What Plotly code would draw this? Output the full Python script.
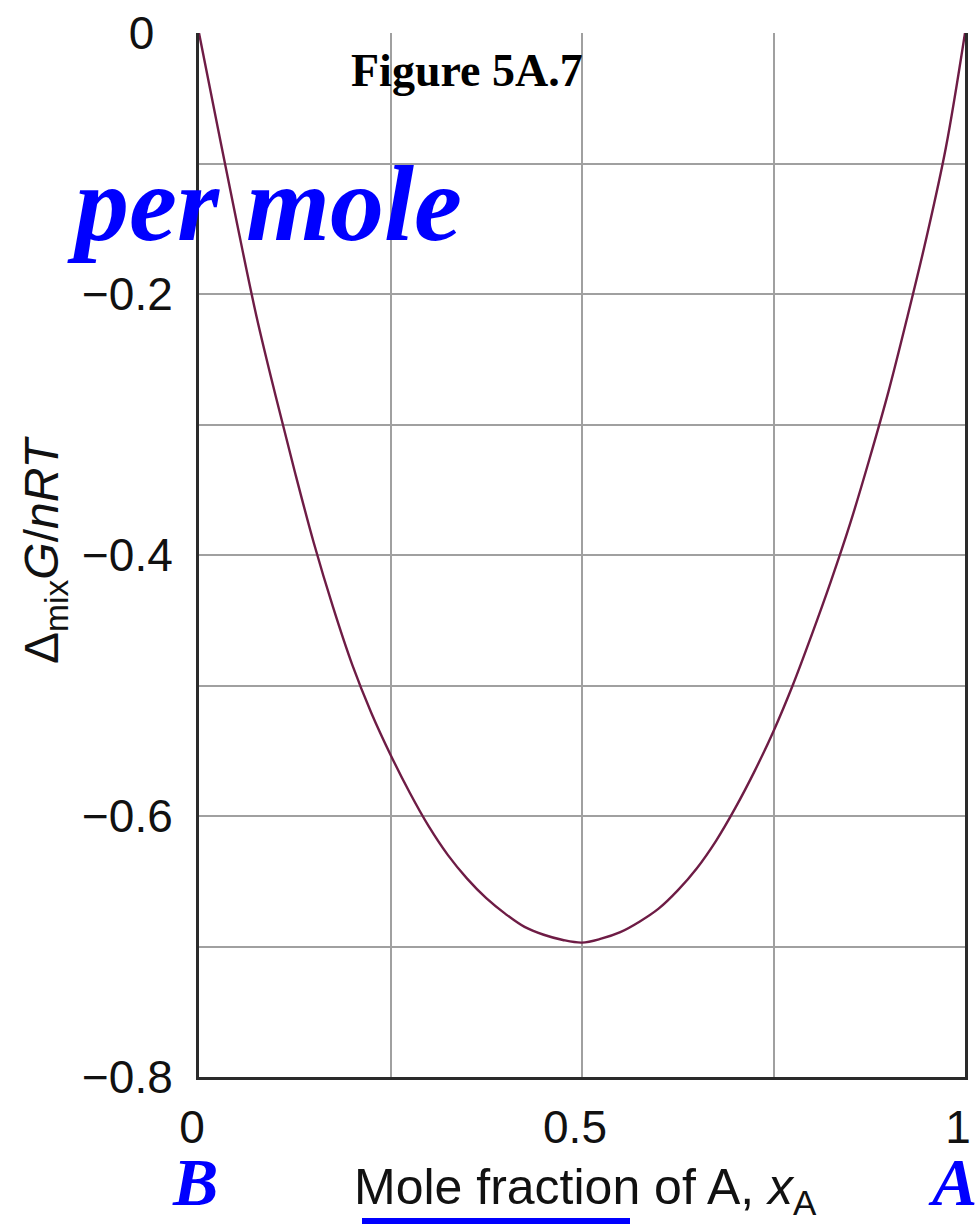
import plotly.graph_objects as go

# Mole fraction of A and the molar Gibbs energy of mixing (in units of RT)
x_a = [0.000, 0.025, 0.050, 0.075, 0.100, 0.125, 0.150, 0.175, 0.200, 0.225,
       0.250, 0.275, 0.300, 0.325, 0.350, 0.375, 0.400, 0.425, 0.450, 0.475,
       0.500, 0.525, 0.550, 0.575, 0.600, 0.625, 0.650, 0.675, 0.700, 0.725,
       0.750, 0.775, 0.800, 0.825, 0.850, 0.875, 0.900, 0.925, 0.950, 0.975,
       1.000]
g_mix = [0.000, -0.074, -0.147, -0.217, -0.278, -0.336, -0.391, -0.440,
         -0.484, -0.521, -0.553, -0.582, -0.608, -0.630, -0.648, -0.663,
         -0.675, -0.685, -0.691, -0.695, -0.697, -0.694, -0.689, -0.681,
         -0.671, -0.657, -0.640, -0.619, -0.594, -0.566, -0.535, -0.500,
         -0.461, -0.420, -0.376, -0.327, -0.275, -0.217, -0.156, -0.088,
         0.000]

y_grid = [0.0, -0.1, -0.2, -0.3, -0.4, -0.5, -0.6, -0.7, -0.8]
y_labels = ["0\u2009\u2009", "", "\u22120.2", "", "\u22120.4", "", "\u22120.6", "", "\u22120.8"]
x_grid = [0.0, 0.25, 0.5, 0.75, 1.0]
x_labels = ["0", "", "0.5", "", "1"]

W, H = 977, 1224
L, R, T, B = 199, 12, 33, 147


def px(xp, yp):
    """Convert pixel position to paper coordinates."""
    pw = W - L - R
    ph = H - T - B
    return (xp - L) / pw, (H - B - yp) / ph


fig = go.Figure()
fig.add_trace(go.Scatter(
    x=x_a, y=g_mix, mode="lines",
    line=dict(color="#6e1c45", width=2.4, shape="spline", smoothing=1.0),
    hoverinfo="skip", showlegend=False,
))

tick_font = dict(family="Liberation Sans, Arial, sans-serif", size=46, color="#111")

fig.update_xaxes(
    range=[0, 1], tickvals=x_grid, ticktext=x_labels,
    showgrid=True, gridcolor="#a0a0a0", gridwidth=2,
    showline=True, linecolor="#2a2a2a", linewidth=3,
    zeroline=False, ticks="", ticklabelstandoff=8, ticklabelshift=-7,
    ticklabeloverflow="allow",
    tickfont=tick_font, fixedrange=True, automargin=False,
)
fig.update_yaxes(
    range=[-0.8, 0], tickvals=y_grid, ticktext=y_labels,
    showgrid=True, gridcolor="#a0a0a0", gridwidth=2,
    showline=True, mirror=True, linecolor="#2a2a2a", linewidth=3,
    zeroline=False, ticks="", ticklabelstandoff=14,
    ticklabeloverflow="allow",
    tickfont=tick_font, fixedrange=True, automargin=False,
)

annotations = []

# figure caption
cx, cy = px(467, 71)
annotations.append(dict(
    text="<b>Figure 5A.7</b>", x=cx, y=cy, xref="paper", yref="paper",
    showarrow=False, xanchor="center", yanchor="middle",
    font=dict(family="Liberation Serif, Times New Roman, serif", size=46, color="black"),
))

# "per mole" note
cx, cy = px(264, 203)
annotations.append(dict(
    text="<b><i>per mole</i></b>", x=cx, y=cy, xref="paper", yref="paper",
    showarrow=False, xanchor="center", yanchor="middle",
    font=dict(family="Liberation Serif, Times New Roman, serif", size=108, color="#0000ff"),
))

# component labels below the axis ends
for lab, xp in (("B", 195), ("A", 952)):
    cx, cy = px(xp, 1182)
    annotations.append(dict(
        text="<b><i>%s</i></b>" % lab, x=cx, y=cy, xref="paper", yref="paper",
        showarrow=False, xanchor="center", yanchor="middle",
        font=dict(family="Liberation Serif, Times New Roman, serif", size=68, color="#0000ff"),
    ))

# x-axis title
cx, cy = px(585, 1190)
annotations.append(dict(
    text="Mole fraction of A, <i>x</i><sub>A</sub>", x=cx, y=cy,
    xref="paper", yref="paper", showarrow=False,
    xanchor="center", yanchor="middle",
    font=dict(family="Liberation Sans, Arial, sans-serif", size=50, color="#111"),
))

# y-axis title
cx, cy = px(45, 550)
annotations.append(dict(
    text="\u0394<sub>mix</sub><i>G</i>/<i>nRT</i>", x=cx, y=cy,
    xref="paper", yref="paper", showarrow=False, textangle=-90,
    xanchor="center", yanchor="middle",
    font=dict(family="Liberation Sans, Arial, sans-serif", size=48, color="#111"),
))

# blue underline beneath "Mole fraction"
u0x, uy = px(362, 1221)
u1x, _ = px(630, 1221)
shapes = [dict(type="line", xref="paper", yref="paper",
               x0=u0x, x1=u1x, y0=uy, y1=uy,
               line=dict(color="#0000ff", width=6))]

fig.update_layout(
    width=W, height=H,
    margin=dict(l=L, r=R, t=T, b=B, pad=0, autoexpand=False),
    paper_bgcolor="white", plot_bgcolor="white",
    annotations=annotations, shapes=shapes,
    showlegend=False,
)

fig.write_html("out.html", config={"displayModeBar": False})
